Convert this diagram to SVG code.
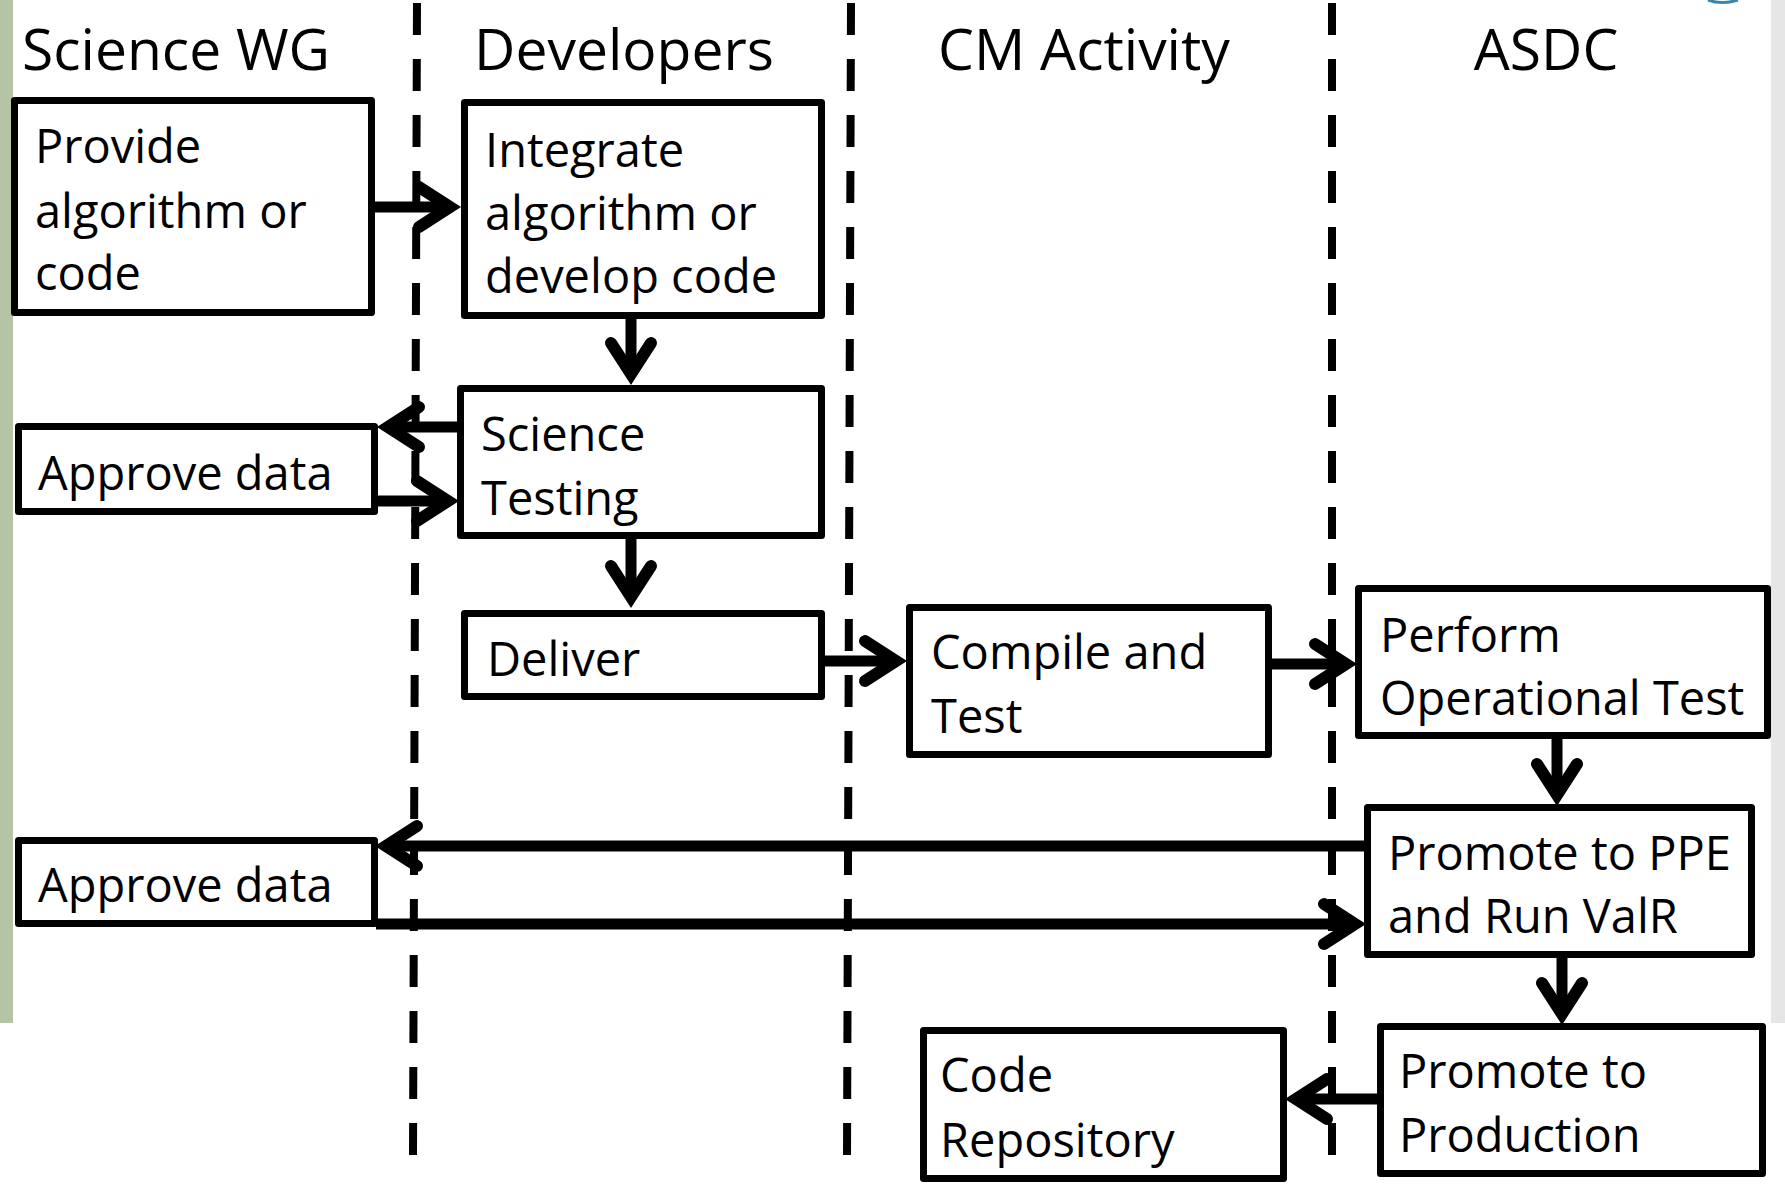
<svg xmlns="http://www.w3.org/2000/svg" width="1785" height="1184" viewBox="0 0 1785 1184">
<style>
.bg{fill:#ffffff}
.box{fill:#ffffff;stroke:#000;stroke-width:7;stroke-linejoin:round}
.lane{stroke:#000;stroke-width:8;stroke-dasharray:32 24;fill:none}
.hdr{font-family:"Open Sans","Liberation Sans",sans-serif;font-size:57px;fill:#000;text-anchor:middle}
.lbl{font-family:"Open Sans","Liberation Sans",sans-serif;font-size:47px;fill:#000}
.con{stroke:#000;stroke-width:11;fill:none;marker-end:url(#arr)}
</style>
<defs>
<marker id="arr" markerUnits="userSpaceOnUse" markerWidth="70" markerHeight="60" viewBox="-55 -30 70 60" refX="0" refY="0" orient="auto" overflow="visible">
<path d="M-31,-20 L0,0 L-31,20" fill="none" stroke="#000" stroke-width="12" stroke-linecap="round" stroke-linejoin="miter"/>
</marker>
</defs>
<rect class="bg" x="0" y="0" width="1785" height="1184"/>
<rect x="0" y="0" width="13" height="1023" fill="#b5c4a5"/>
<rect x="1771" y="0" width="14" height="1023" fill="#e6e6e6"/>
<path d="M1708,0 Q1722,5 1738,0" fill="none" stroke="#3a86a8" stroke-width="3"/>

<g id="lanes">
<line class="lane" x1="417" y1="3" x2="413" y2="1155"/>
<line class="lane" x1="851" y1="3" x2="847" y2="1155"/>
<line class="lane" x1="1332" y1="3" x2="1332" y2="1155"/>
</g>

<g id="headers">
<text class="hdr" x="176" y="70">Science WG</text>
<text class="hdr" x="624" y="70">Developers</text>
<text class="hdr" x="1084" y="70">CM Activity</text>
<text class="hdr" x="1546" y="70">ASDC</text>
</g>

<g id="connectors">
<line class="con" x1="375" y1="207" x2="450" y2="207"/>
<line class="con" x1="631" y1="319" x2="631" y2="374"/>
<line class="con" x1="458" y1="427" x2="388" y2="427"/>
<line class="con" x1="378" y1="501" x2="448" y2="501"/>
<line class="con" x1="631" y1="539" x2="631" y2="597"/>
<line class="con" x1="825" y1="661" x2="896" y2="661"/>
<line class="con" x1="1272" y1="664" x2="1346" y2="664"/>
<line class="con" x1="1557" y1="739" x2="1557" y2="795"/>
<line class="con" x1="1364" y1="846" x2="386" y2="846"/>
<line class="con" x1="376" y1="924" x2="1355" y2="924"/>
<line class="con" x1="1562" y1="958" x2="1562" y2="1014"/>
<line class="con" x1="1377" y1="1099" x2="1296" y2="1099"/>
</g>

<g id="provide">
<rect class="box" x="14.5" y="100.5" width="357" height="212"/>
<text class="lbl" x="35" y="163">Provide</text>
<text class="lbl" x="35" y="228">algorithm or</text>
<text class="lbl" x="35" y="290">code</text>
</g>
<g id="integrate">
<rect class="box" x="464.5" y="102.5" width="357" height="213"/>
<text class="lbl" x="485" y="167">Integrate</text>
<text class="lbl" x="485" y="230">algorithm or</text>
<text class="lbl" x="485" y="293">develop code</text>
</g>
<g id="science-testing">
<rect class="box" x="460.5" y="388.5" width="361" height="147"/>
<text class="lbl" x="481" y="451">Science</text>
<text class="lbl" x="481" y="515">Testing</text>
</g>
<g id="approve-1">
<rect class="box" x="18.5" y="426.5" width="356" height="85"/>
<text class="lbl" x="38" y="490">Approve data</text>
</g>
<g id="deliver">
<rect class="box" x="464.5" y="613.5" width="357" height="83"/>
<text class="lbl" x="487" y="676">Deliver</text>
</g>
<g id="compile">
<rect class="box" x="909.5" y="607.5" width="359" height="147"/>
<text class="lbl" x="931" y="669">Compile and</text>
<text class="lbl" x="931" y="733">Test</text>
</g>
<g id="perform">
<rect class="box" x="1358.5" y="588.5" width="409" height="147"/>
<text class="lbl" x="1380" y="652">Perform</text>
<text class="lbl" x="1380" y="715">Operational Test</text>
</g>
<g id="promote-ppe">
<rect class="box" x="1367.5" y="807.5" width="384" height="147"/>
<text class="lbl" x="1388" y="870">Promote to PPE</text>
<text class="lbl" x="1388" y="933">and Run ValR</text>
</g>
<g id="approve-2">
<rect class="box" x="18.5" y="840.5" width="356" height="83"/>
<text class="lbl" x="38" y="902">Approve data</text>
</g>
<g id="code-repo">
<rect class="box" x="923.5" y="1030.5" width="360" height="148"/>
<text class="lbl" x="940" y="1092">Code</text>
<text class="lbl" x="940" y="1157">Repository</text>
</g>
<g id="promote-prod">
<rect class="box" x="1380.5" y="1026.5" width="382" height="147"/>
<text class="lbl" x="1399" y="1088">Promote to</text>
<text class="lbl" x="1399" y="1152">Production</text>
</g>
</svg>
